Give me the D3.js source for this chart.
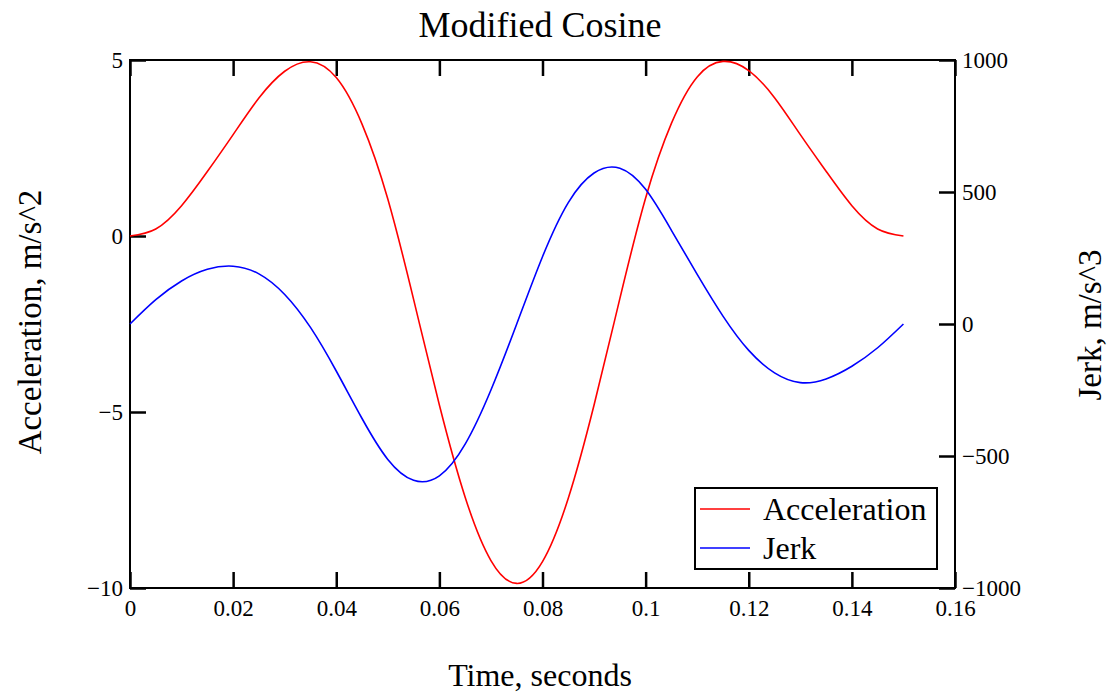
<!DOCTYPE html>
<html>
<head>
<meta charset="utf-8">
<script src="https://cdn.jsdelivr.net/npm/d3@7"></script>
<style>
  body { margin: 0; background: #fff; }
  text { font-family: "Liberation Serif", "Times New Roman", serif; fill: #000; }
  .axis path { display: none; }
  .axis line { stroke: #000; stroke-width: 2.5; }
  .axis text { font-size: 23px; }
</style>
</head>
<body>
<svg width="1107" height="694"></svg>
<script>
// time samples (s) and the two series
let time = [0, 0.005, 0.01, 0.015, 0.02, 0.025, 0.03, 0.035, 0.04, 0.045, 0.05,
    0.055, 0.06, 0.065, 0.07, 0.075, 0.08, 0.085, 0.09, 0.095, 0.1,
    0.105, 0.11, 0.115, 0.12, 0.125, 0.13, 0.135, 0.14, 0.145, 0.15];
let acceleration = [0, 0.2, 0.86, 1.83, 2.88, 3.92, 4.68, 4.95, 4.5, 3.18, 1.05,
    -1.8, -4.8, -7.42, -9.22, -9.87, -9.25, -7.45, -4.8, -1.78, 1.08,
    3.2, 4.52, 4.96, 4.7, 3.93, 2.88, 1.84, 0.86, 0.2, 0];
let jerk = [0, 92, 163, 207, 219, 190, 112, -13, -178, -358, -513,
    -592, -575, -455, -250, 0, 255, 460, 572, 590, 510,
    355, 188, 30, -100, -185, -222, -208, -160, -90, 0];

let xTicks = [0, 0.02, 0.04, 0.06, 0.08, 0.1, 0.12, 0.14, 0.16];
let accTicks = [5, 0, -5, -10];
let jerkTicks = [1000, 500, 0, -500, -1000];
let seriesNames = ["Acceleration", "Jerk"];
let seriesColors = ["#ff0000", "#0000ff"];

let svg = d3.select("svg"),
    plotLeft = 130, plotRight = 955, plotTop = 60, plotBottom = 588;

let x = d3.scaleLinear().domain([0, 0.16]).range([plotLeft, plotRight]);
let yAcc = d3.scaleLinear().domain([-10, 5]).range([plotBottom, plotTop]);
let yJerk = d3.scaleLinear().domain([-1000, 1000]).range([plotBottom, plotTop]);

let fmt = d => d < 0 ? "\u2212" + Math.abs(d) : String(d);

// axes, ticks drawn inward
svg.append("g")
    .attr("class", "axis")
    .attr("transform", `translate(0,${plotBottom})`)
    .call(d3.axisBottom(x).tickValues(xTicks).tickSize(-16).tickPadding(12).tickFormat(d => String(d)));

svg.append("g")
    .attr("class", "axis")
    .attr("transform", `translate(0,${plotTop})`)
    .call(d3.axisTop(x).tickValues(xTicks).tickSize(-16).tickFormat(""));

svg.append("g")
    .attr("class", "axis")
    .attr("transform", `translate(${plotLeft},0)`)
    .call(d3.axisLeft(yAcc).tickValues(accTicks).tickSize(-16).tickPadding(7).tickFormat(fmt));

svg.append("g")
    .attr("class", "axis")
    .attr("transform", `translate(${plotRight},0)`)
    .call(d3.axisRight(yJerk).tickValues(jerkTicks).tickSize(-16).tickPadding(7).tickFormat(fmt));

// frame
svg.append("rect")
    .attr("x", plotLeft).attr("y", plotTop)
    .attr("width", plotRight - plotLeft).attr("height", plotBottom - plotTop)
    .attr("fill", "none").attr("stroke", "#000").attr("stroke-width", 2);

// curves
let accLine = d3.line().x((d, i) => x(time[i])).y(d => yAcc(d)).curve(d3.curveNatural);
let jerkLine = d3.line().x((d, i) => x(time[i])).y(d => yJerk(d)).curve(d3.curveNatural);

svg.append("path")
    .attr("d", accLine(acceleration))
    .attr("fill", "none").attr("stroke", seriesColors[0]).attr("stroke-width", 1.6);

svg.append("path")
    .attr("d", jerkLine(jerk))
    .attr("fill", "none").attr("stroke", seriesColors[1]).attr("stroke-width", 1.6);

// title and labels
svg.append("text")
    .attr("x", 540).attr("y", 37)
    .attr("text-anchor", "middle").attr("font-size", 36)
    .text("Modified Cosine");

svg.append("text")
    .attr("x", 540).attr("y", 686)
    .attr("text-anchor", "middle").attr("font-size", 32)
    .text("Time, seconds");

svg.append("text")
    .attr("transform", "translate(41,322) rotate(-90)")
    .attr("text-anchor", "middle").attr("font-size", 33)
    .text("Acceleration, m/s^2");

svg.append("text")
    .attr("transform", "translate(1101,325) rotate(-90)")
    .attr("text-anchor", "middle").attr("font-size", 33)
    .text("Jerk, m/s^3");

// legend
let legend = svg.append("g").attr("transform", "translate(695,488)");
legend.append("rect")
    .attr("width", 242).attr("height", 81)
    .attr("fill", "#fff").attr("stroke", "#000").attr("stroke-width", 2);

legend.selectAll("g.item")
    .data(seriesNames)
    .enter().append("g")
        .attr("class", "item")
        .attr("transform", (d, i) => `translate(0,${21 + i * 39})`)
    .each(function (d, i) {
        let g = d3.select(this);
        g.append("line")
            .attr("x1", 5).attr("x2", 55)
            .attr("stroke", seriesColors[i]).attr("stroke-width", 1.6);
        g.append("text")
            .attr("x", 68).attr("y", 11)
            .attr("font-size", 32)
            .text(d);
    });
</script>
</body>
</html>
